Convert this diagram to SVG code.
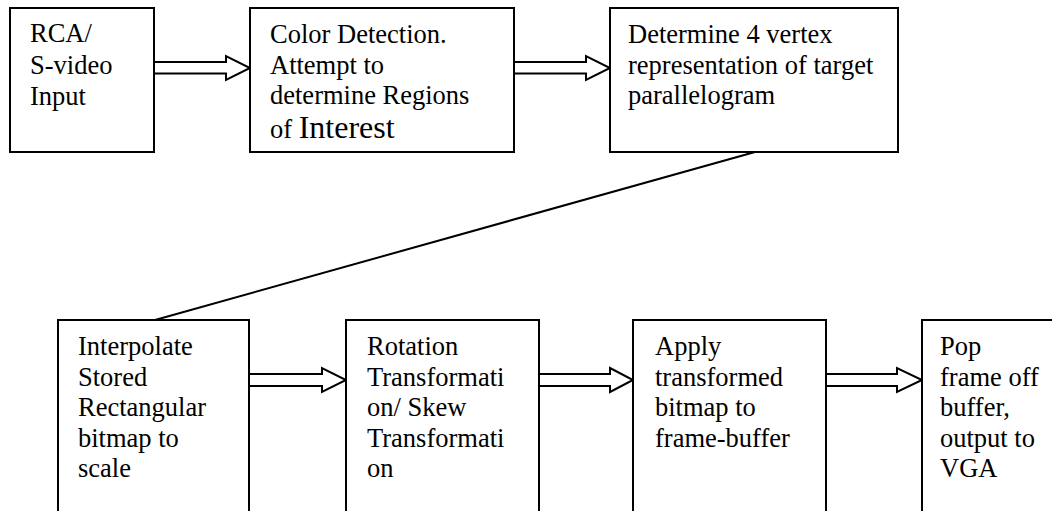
<svg xmlns="http://www.w3.org/2000/svg" width="1052" height="511" viewBox="0 0 1052 511">
  <style>
    .box { fill: #ffffff; stroke: #000000; stroke-width: 2; }
    .arr { fill: #ffffff; stroke: #000000; stroke-width: 2; stroke-linejoin: miter; }
    .ln { fill: none; stroke: #000000; stroke-width: 2; }
    .t { font-family: 'Liberation Serif', 'Times New Roman', 'DejaVu Serif', serif; font-size: 26.5px; fill: #000000; }
  </style>
  <rect x="0" y="0" width="1052" height="511" fill="#ffffff"/>
  <g id="connectors">
    <line class="ln" x1="755" y1="152" x2="155" y2="320"/>
    <polygon class="arr" points="154,62 226,62 226,56 250,68 226,80 226,73.5 154,73.5"/>
    <polygon class="arr" points="514,62 586,62 586,56 610,68 586,80 586,73.5 514,73.5"/>
    <polygon class="arr" points="249,374 322,374 322,368 346,380 322,392 322,386 249,386"/>
    <polygon class="arr" points="539,374 610,374 610,368 633,380 610,392 610,386 539,386"/>
    <polygon class="arr" points="826,374 897,374 897,368 922,380 897,392 897,386 826,386"/>
  </g>
  <g id="node-input" class="t" font-family="Liberation Serif, serif">
    <rect class="box" x="10" y="8" width="144" height="144"/>
    <text x="30" y="42">RCA/</text>
    <text x="30" y="73.5">S-video</text>
    <text x="30" y="104.5">Input</text>
  </g>
  <g id="node-color" class="t" font-family="Liberation Serif, serif">
    <rect class="box" x="250" y="8" width="264" height="144"/>
    <text x="270" y="43">Color Detection.</text>
    <text x="270" y="74">Attempt to</text>
    <text x="270" y="104">determine Regions</text>
    <text x="270" y="138">of <tspan style="font-size:32px">Interest</tspan></text>
  </g>
  <g id="node-vertex" class="t" font-family="Liberation Serif, serif">
    <rect class="box" x="610" y="8" width="288" height="144"/>
    <text x="628" y="43">Determine 4 vertex</text>
    <text x="628" y="74">representation of target</text>
    <text x="628" y="104">parallelogram</text>
  </g>
  <g id="node-interpolate" class="t" font-family="Liberation Serif, serif">
    <rect class="box" x="58" y="320" width="191" height="210"/>
    <text x="78" y="355">Interpolate</text>
    <text x="78" y="385.5">Stored</text>
    <text x="78" y="416">Rectangular</text>
    <text x="78" y="446.5">bitmap to</text>
    <text x="78" y="477">scale</text>
  </g>
  <g id="node-rotation" class="t" font-family="Liberation Serif, serif">
    <rect class="box" x="346" y="320" width="193" height="210"/>
    <text x="367" y="355">Rotation</text>
    <text x="367" y="385.5">Transformati</text>
    <text x="367" y="416">on/ Skew</text>
    <text x="367" y="446.5">Transformati</text>
    <text x="367" y="477">on</text>
  </g>
  <g id="node-apply" class="t" font-family="Liberation Serif, serif">
    <rect class="box" x="633" y="320" width="193" height="210"/>
    <text x="655" y="355">Apply</text>
    <text x="655" y="385.5">transformed</text>
    <text x="655" y="416">bitmap to</text>
    <text x="655" y="446.5">frame-buffer</text>
  </g>
  <g id="node-pop" class="t" font-family="Liberation Serif, serif">
    <rect class="box" x="922" y="320" width="150" height="210"/>
    <text x="940" y="355">Pop</text>
    <text x="940" y="385.5">frame off</text>
    <text x="940" y="416">buffer,</text>
    <text x="940" y="446.5">output to</text>
    <text x="940" y="477">VGA</text>
  </g>
</svg>
